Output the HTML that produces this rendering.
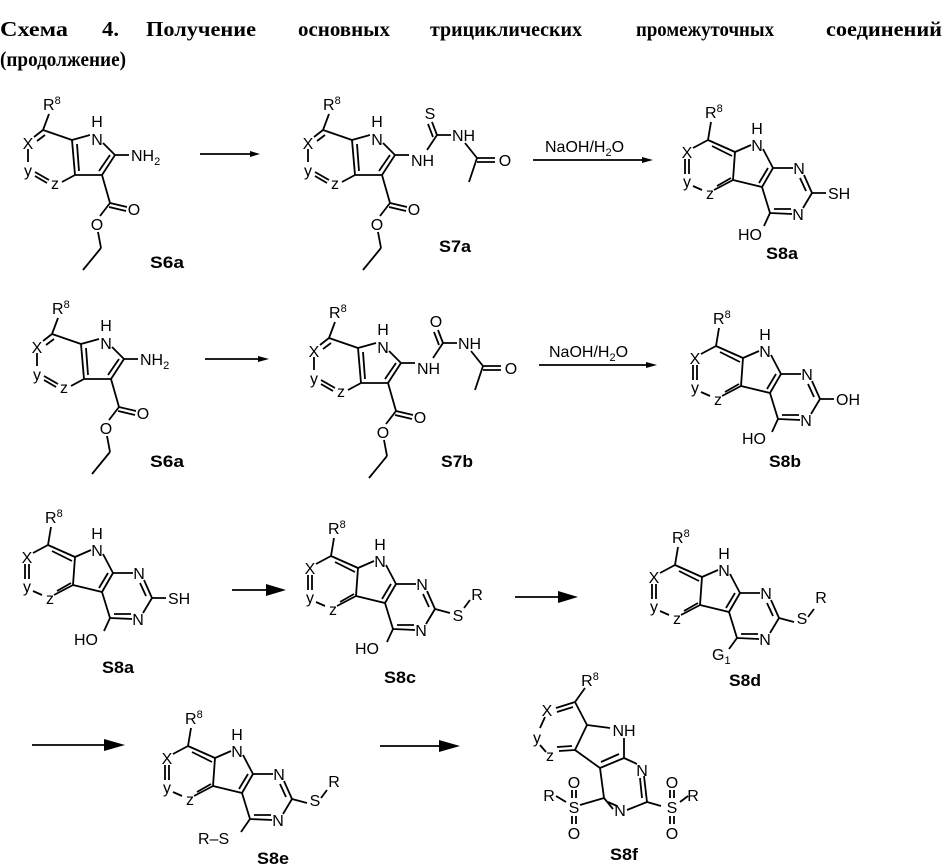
<!DOCTYPE html>
<html><head><meta charset="utf-8"><style>
html,body{margin:0;padding:0;background:#fff;}
svg{display:block;}
.t{font-family:"Liberation Serif",serif;font-weight:bold;font-size:21px;}
.a{font-family:"Liberation Sans",sans-serif;font-size:16px;fill:#000;}
.m{text-anchor:middle;}
.l{font-family:"Liberation Sans",sans-serif;font-size:17px;font-weight:bold;text-anchor:middle;}
path{stroke:#000;stroke-width:1.8;fill:none;}
</style></head><body>
<svg width="944" height="868" viewBox="0 0 944 868" xmlns="http://www.w3.org/2000/svg">
<defs>
<g id="tri"><path d="M0,0 L-15,8 M-23,19 L-23,34 M-19,19 L-19,34 M-15,46 L-6,50 M6,50 L25,40 M9,46 L23,38 M25,40 L27,12 M27,12 L0,0 M24,16 L4,6 M27,12 L43,5 M55,9 L65,28 M65,28 L54,47 M60,28 L51,43 M54,47 L25,40 M65,28 L85,28 M96,35 L104,53 M92,38 L98,51 M104,53 L95,68 M84,74 L62,73 M83,69 L66,69 M62,73 L54,47 M0,0 L3,-18"/></g>
<g id="ind"><path d="M0,0 L-9,7 M2,5 L-6,11 M-15,19 L-15,32 M-8,42 L6,50 M-8,46 L4,53 M19,52 L32,45 M32,45 L29,10 M36,41 L34,14 M29,10 L0,0 M29,10 L47,5 M60,13 L72,25 M72,25 L86,25 M72,25 L59,45 M67,25 L56,41 M59,45 L32,45 M59,45 L67,73 M67,73 L84,77 M66,77 L83,81 M67,73 L57,86 M55,102 L58,118 M58,118 L40,140 M0,0 L6,-16"/></g>
</defs>
<text class="t" x="0" y="36" textLength="68" lengthAdjust="spacingAndGlyphs">Схема</text>
<text class="t" x="102" y="36" textLength="17" lengthAdjust="spacingAndGlyphs">4.</text>
<text class="t" x="146" y="36" textLength="110" lengthAdjust="spacingAndGlyphs">Получение</text>
<text class="t" x="298" y="36" textLength="92" lengthAdjust="spacingAndGlyphs">основных</text>
<text class="t" x="430" y="36" textLength="152" lengthAdjust="spacingAndGlyphs">трициклических</text>
<text class="t" x="636" y="36" textLength="138" lengthAdjust="spacingAndGlyphs">промежуточных</text>
<text class="t" x="826" y="36" textLength="116" lengthAdjust="spacingAndGlyphs">соединений</text>
<text class="t" x="0" y="66" textLength="126" lengthAdjust="spacingAndGlyphs">(продолжение)</text>

<g transform="translate(43,130)"><use href="#ind"/>
<text class="a" x="0" y="-20">R<tspan font-size="11" dy="-6">8</tspan></text>
<text class="a m" x="-15" y="19">X</text><text class="a m" x="-15" y="46">y</text><text class="a m" x="12" y="59">z</text>
<text class="a m" x="54" y="-3">H</text><text class="a m" x="54" y="15">N</text>
<text class="a" x="88" y="31">NH<tspan font-size="11" dy="4">2</tspan></text>
<text class="a m" x="91" y="85">O</text><text class="a m" x="54" y="100">O</text>
<text class="l" x="124" y="138" textLength="34" lengthAdjust="spacingAndGlyphs">S6a</text></g>

<g transform="translate(52,334)"><use href="#ind"/>
<text class="a" x="0" y="-20">R<tspan font-size="11" dy="-6">8</tspan></text>
<text class="a m" x="-15" y="19">X</text><text class="a m" x="-15" y="46">y</text><text class="a m" x="12" y="59">z</text>
<text class="a m" x="54" y="-3">H</text><text class="a m" x="54" y="15">N</text>
<text class="a" x="88" y="31">NH<tspan font-size="11" dy="4">2</tspan></text>
<text class="a m" x="91" y="85">O</text><text class="a m" x="54" y="100">O</text>
<text class="l" x="115" y="133" textLength="34" lengthAdjust="spacingAndGlyphs">S6a</text></g>

<g transform="translate(323,130)"><use href="#ind"/>
<path d="M104,20 L114,5 M114,5 L109,-8 M110,7 L105,-6 M114,5 L128,5 M142,13 L154,28 M154,28 L172,28 M154,32 L172,32 M154,28 L146,52"/>
<text class="a" x="0" y="-20">R<tspan font-size="11" dy="-6">8</tspan></text>
<text class="a m" x="-15" y="19">X</text><text class="a m" x="-15" y="46">y</text><text class="a m" x="12" y="59">z</text>
<text class="a m" x="54" y="-3">H</text><text class="a m" x="54" y="15">N</text>
<text class="a" x="88" y="36">NH</text>
<text class="a m" x="107" y="-11">S</text><text class="a" x="129" y="11">NH</text><text class="a m" x="182" y="36">O</text>
<text class="a m" x="91" y="85">O</text><text class="a m" x="54" y="100">O</text>
<text class="l" x="132" y="122" textLength="32" lengthAdjust="spacingAndGlyphs">S7a</text></g>

<g transform="translate(329,338)"><use href="#ind"/>
<path d="M104,20 L114,5 M114,5 L109,-8 M110,7 L105,-6 M114,5 L128,5 M142,13 L154,28 M154,28 L172,28 M154,32 L172,32 M154,28 L146,52"/>
<text class="a" x="0" y="-20">R<tspan font-size="11" dy="-6">8</tspan></text>
<text class="a m" x="-15" y="19">X</text><text class="a m" x="-15" y="46">y</text><text class="a m" x="12" y="59">z</text>
<text class="a m" x="54" y="-3">H</text><text class="a m" x="54" y="15">N</text>
<text class="a" x="88" y="36">NH</text>
<text class="a m" x="107" y="-11">O</text><text class="a" x="129" y="11">NH</text><text class="a m" x="182" y="36">O</text>
<text class="a m" x="91" y="85">O</text><text class="a m" x="54" y="100">O</text>
<text class="l" x="128" y="129" textLength="32" lengthAdjust="spacingAndGlyphs">S7b</text></g>

<g fill="#000">
<path d="M200,154 L254,154"/><polygon points="260,154 250,151 250,157"/>
<path d="M533,160 L646,160"/><polygon points="653,160 642,157 642,163"/>
<text class="a" x="545" y="152">NaOH/H<tspan font-size="11" dy="4">2</tspan><tspan dy="-4">O</tspan></text>
<path d="M205,359 L262,359"/><polygon points="269,359 258,356 258,362"/>
<path d="M539,365 L650,365"/><polygon points="657,365 646,362 646,368"/>
<text class="a" x="549" y="357">NaOH/H<tspan font-size="11" dy="4">2</tspan><tspan dy="-4">O</tspan></text>
<path d="M232,590 L270,590"/><polygon points="286,590 266,584 266,596"/>
<path d="M515,597 L560,597"/><polygon points="578,597 558,591 558,603"/>
<path d="M32,745 L108,745"/><polygon points="125,745 104,739 104,751"/>
<path d="M380,746 L443,746"/><polygon points="460,746 439,740 439,752"/>
</g>

<g transform="translate(708,140)"><use href="#tri"/>
<path d="M104,53 L118,53 M62,73 L56,86"/>
<text class="a" x="-3" y="-22">R<tspan font-size="11" dy="-6">8</tspan></text>
<text class="a m" x="-21" y="18">X</text><text class="a m" x="-21" y="47">y</text><text class="a m" x="2" y="59">z</text>
<text class="a m" x="49" y="-6">H</text><text class="a m" x="49" y="11">N</text>
<text class="a m" x="91" y="34">N</text><text class="a m" x="90" y="80">N</text>
<text class="a" x="120" y="59">SH</text><text class="a m" x="42" y="100">HO</text>
<text class="l" x="74" y="119" textLength="32" lengthAdjust="spacingAndGlyphs">S8a</text></g>

<g transform="translate(716,346)"><use href="#tri"/>
<path d="M104,53 L118,53 M62,73 L56,86"/>
<text class="a" x="-3" y="-22">R<tspan font-size="11" dy="-6">8</tspan></text>
<text class="a m" x="-21" y="18">X</text><text class="a m" x="-21" y="47">y</text><text class="a m" x="2" y="59">z</text>
<text class="a m" x="49" y="-6">H</text><text class="a m" x="49" y="11">N</text>
<text class="a m" x="91" y="34">N</text><text class="a m" x="90" y="80">N</text>
<text class="a" x="120" y="59">OH</text><text class="a m" x="38" y="98">HO</text>
<text class="l" x="69" y="121" textLength="32" lengthAdjust="spacingAndGlyphs">S8b</text></g>

<g transform="translate(48,545)"><use href="#tri"/>
<path d="M104,53 L118,53 M62,73 L56,86"/>
<text class="a" x="-3" y="-22">R<tspan font-size="11" dy="-6">8</tspan></text>
<text class="a m" x="-21" y="18">X</text><text class="a m" x="-21" y="47">y</text><text class="a m" x="2" y="59">z</text>
<text class="a m" x="49" y="-6">H</text><text class="a m" x="49" y="11">N</text>
<text class="a m" x="91" y="34">N</text><text class="a m" x="90" y="80">N</text>
<text class="a" x="120" y="59">SH</text><text class="a m" x="38" y="100">HO</text>
<text class="l" x="70" y="128" textLength="32" lengthAdjust="spacingAndGlyphs">S8a</text></g>

<g transform="translate(331,556)"><use href="#tri"/>
<path d="M104,53 L119,57 M62,73 L56,86 M133,52 L139,44"/>
<text class="a" x="-3" y="-22">R<tspan font-size="11" dy="-6">8</tspan></text>
<text class="a m" x="-21" y="18">X</text><text class="a m" x="-21" y="47">y</text><text class="a m" x="2" y="59">z</text>
<text class="a m" x="49" y="-6">H</text><text class="a m" x="49" y="11">N</text>
<text class="a m" x="91" y="34">N</text><text class="a m" x="90" y="80">N</text>
<text class="a m" x="127" y="65">S</text><text class="a m" x="146" y="44">R</text><text class="a m" x="36" y="98">HO</text>
<text class="l" x="69" y="127" textLength="32" lengthAdjust="spacingAndGlyphs">S8c</text></g>

<g transform="translate(675,565)"><use href="#tri"/>
<path d="M104,53 L119,57 M62,73 L54,84 M133,52 L139,44"/>
<text class="a" x="-3" y="-22">R<tspan font-size="11" dy="-6">8</tspan></text>
<text class="a m" x="-21" y="18">X</text><text class="a m" x="-21" y="47">y</text><text class="a m" x="2" y="59">z</text>
<text class="a m" x="49" y="-6">H</text><text class="a m" x="49" y="11">N</text>
<text class="a m" x="91" y="34">N</text><text class="a m" x="90" y="80">N</text>
<text class="a m" x="127" y="59">S</text><text class="a m" x="146" y="38">R</text>
<text class="a" x="37" y="95">G<tspan font-size="11" dy="4">1</tspan></text>
<text class="l" x="70" y="121" textLength="32" lengthAdjust="spacingAndGlyphs">S8d</text></g>

<g transform="translate(188,746)"><use href="#tri"/>
<path d="M104,53 L119,57 M62,73 L53,86 M133,52 L139,44"/>
<text class="a" x="-3" y="-22">R<tspan font-size="11" dy="-6">8</tspan></text>
<text class="a m" x="-21" y="18">X</text><text class="a m" x="-21" y="47">y</text><text class="a m" x="2" y="59">z</text>
<text class="a m" x="49" y="-6">H</text><text class="a m" x="49" y="11">N</text>
<text class="a m" x="91" y="34">N</text><text class="a m" x="90" y="80">N</text>
<text class="a m" x="127" y="60">S</text><text class="a m" x="146" y="41">R</text>
<text class="a" x="10" y="98">R–S</text>
<text class="l" x="85" y="118" textLength="32" lengthAdjust="spacingAndGlyphs">S8e</text></g>

<g>
<path d="M575,702 L585,688 M575,702 L556,708 M573,707 L557,712 M545,717 L540,728 M540,745 L546,752 M559,751 L575,750 M557,747 L572,746 M575,750 L587,725 M587,725 L575,702 M587,725 L610,728 M624,738 L624,758 M624,758 L600,768 M619,754 L601,762 M600,768 L575,750 M624,758 L637,764 M644,776 L647,802 M640,778 L642,798 M647,802 L627,810 M613,809 L604,798 M604,798 L600,768 M608,802 L617,806 M604,798 L580,805 M647,802 L661,806 M572,790 L572,798 M576,790 L576,798 M572,816 L572,824 M576,816 L576,824 M670,790 L670,798 M674,790 L674,798 M670,816 L670,824 M674,816 L674,824 M566,802 L556,796 M680,802 L688,796"/>
<text class="a m" x="590" y="686">R<tspan font-size="11" dy="-6">8</tspan></text>
<text class="a m" x="547" y="716">X</text><text class="a m" x="537" y="743">y</text><text class="a m" x="550" y="761">z</text>
<text class="a m" x="624" y="736">NH</text>
<text class="a m" x="642" y="776">N</text><text class="a m" x="620" y="816">N</text>
<text class="a m" x="574" y="788">O</text><text class="a m" x="574" y="813">S</text><text class="a m" x="574" y="839">O</text>
<text class="a m" x="549" y="801">R</text>
<text class="a m" x="672" y="788">O</text><text class="a m" x="672" y="813">S</text><text class="a m" x="672" y="839">O</text>
<text class="a m" x="693" y="801">R</text>
<text class="l" x="624" y="860" textLength="28" lengthAdjust="spacingAndGlyphs">S8f</text>
</g>
</svg>
</body></html>
